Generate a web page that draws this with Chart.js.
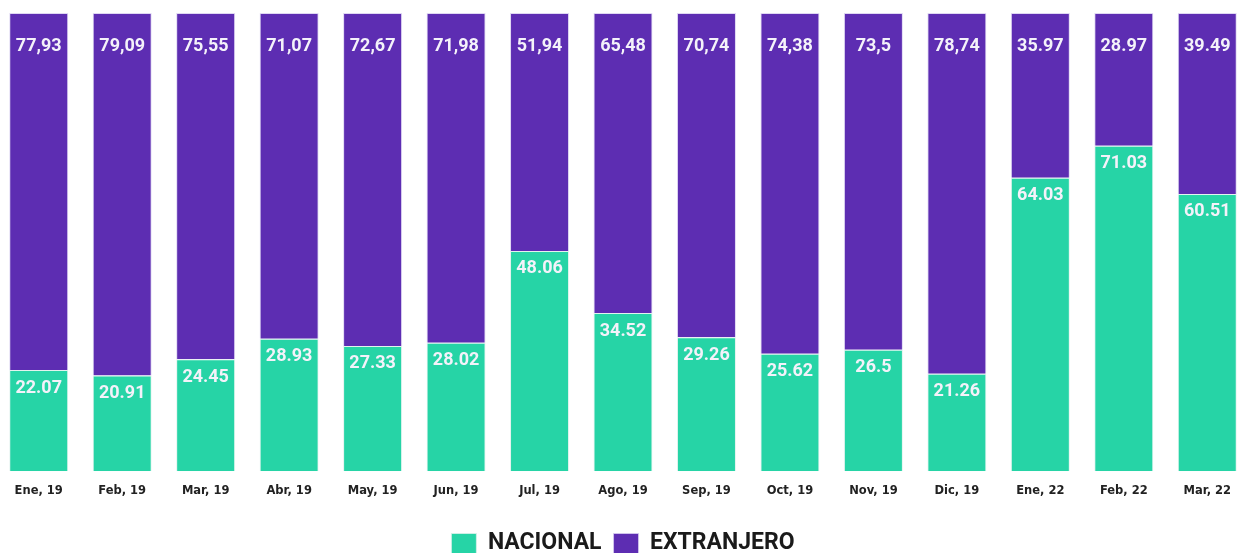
<!DOCTYPE html>
<html>
<head>
<meta charset="utf-8">
<script src="https://cdn.jsdelivr.net/npm/chart.js@4/dist/chart.umd.min.js"></script>
<style>
  html, body { margin: 0; padding: 0; background: #fff; overflow: hidden; }
  #wrap { position: absolute; left: -3px; top: 0; width: 1252px; height: 565px; }
</style>
</head>
<body>
<div id="wrap"><canvas id="grafico"></canvas></div>
<script>
// categorias (meses)
var meses = ['Ene, 19', 'Feb, 19', 'Mar, 19', 'Abr, 19', 'May, 19', 'Jun, 19', 'Jul, 19', 'Ago, 19',
             'Sep, 19', 'Oct, 19', 'Nov, 19', 'Dic, 19', 'Ene, 22', 'Feb, 22', 'Mar, 22'];
// porcentaje nacional
var nacional = [22.07, 20.91, 24.45, 28.93, 27.33, 28.02, 48.06, 34.52, 29.26, 25.62, 26.5, 21.26, 64.03, 71.03, 60.51];
// porcentaje extranjero
var extranjero = [77.93, 79.09, 75.55, 71.07, 72.67, 71.98, 51.94, 65.48, 70.74, 74.38, 73.5, 78.74, 35.97, 28.97, 39.49];
// separador decimal usado en las etiquetas de extranjero
var sepExtranjero = [',', ',', ',', ',', ',', ',', ',', ',', ',', ',', ',', ',', '.', '.', '.'];

var VERDE = 'rgb(38, 212, 166)';
var MORADO = 'rgb(93, 45, 178)';

// etiquetas blancas dentro de cada segmento
var etiquetas = {
    id: 'etiquetas',
    afterDatasetsDraw: function (chart) {
        var ctx = chart.ctx;
        ctx.save();
        ctx.fillStyle = '#f4f2fa';
        ctx.textAlign = 'center';
        ctx.textBaseline = 'middle';
        ctx.font = 'bold 18px Roboto, sans-serif';
        chart.data.datasets.forEach(function (ds, i) {
            var meta = chart.getDatasetMeta(i);
            meta.data.forEach(function (bar, j) {
                var txt = String(ds.data[j]);
                var off = 18;
                if (i === 1) { txt = txt.replace('.', sepExtranjero[j]); off = 33; }
                ctx.fillText(txt, bar.x, bar.y + off);
            });
        });
        ctx.restore();
    }
};

var ctx = document.querySelector('#grafico');
var grafico = new Chart(ctx, {
    type: 'bar',
    data: {
        labels: meses,
        datasets: [{
            label: 'NACIONAL',
            data: nacional,
            backgroundColor: VERDE,
            borderColor: 'rgba(220, 240, 235, 0.8)',
            borderWidth: 1,
            barPercentage: 0.707,
            categoryPercentage: 1
        }, {
            label: 'EXTRANJERO',
            data: extranjero,
            backgroundColor: MORADO,
            borderColor: 'rgba(215, 205, 240, 0.8)',
            borderWidth: 1,
            barPercentage: 0.707,
            categoryPercentage: 1
        }]
    },
    options: {
        responsive: true,
        maintainAspectRatio: false,
        animation: false,
        layout: { padding: { top: 13, bottom: 0 } },
        plugins: {
            legend: {
                position: 'bottom',
                labels: {
                    boxWidth: 25,
                    boxHeight: 20,
                    padding: 12,
                    color: '#1a1a1a',
                    font: { family: 'Roboto, sans-serif', size: 23, weight: 'bold' }
                }
            },
            tooltip: { enabled: false }
        },
        scales: {
            x: {
                stacked: true,
                grid: { display: false, drawTicks: false },
                border: { display: false },
                ticks: {
                    padding: 13,
                    color: '#222',
                    font: { family: '"DejaVu Sans", sans-serif', size: 11.5, weight: 'bold' }
                },
                afterFit: function (scale) { scale.height += 9; }
            },
            y: {
                stacked: true,
                min: 0,
                max: 100,
                display: false
            }
        }
    },
    plugins: [etiquetas]
});
</script>
</body>
</html>
